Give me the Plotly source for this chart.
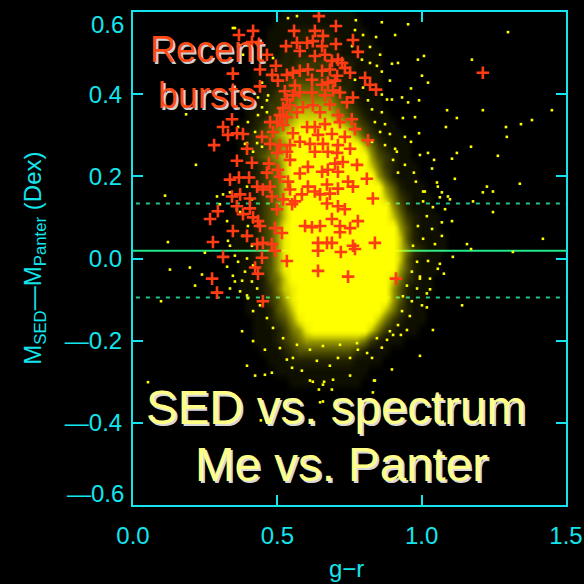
import plotly.graph_objects as go

# ---------------------------------------------------------------------------
# Data
# ---------------------------------------------------------------------------
# Galaxies flagged as recent bursts: (g-r colour, M_SED - M_Panter in dex)
burst_points = [
    (0.367, 0.544), (0.416, 0.554), (0.412, 0.527), (0.440, 0.460), (0.464, 0.496),
    (0.346, 0.450), (0.495, 0.469), (0.482, 0.447), (0.502, 0.433), (0.530, 0.517),
    (0.558, 0.554), (0.568, 0.525), (0.578, 0.505), (0.578, 0.457), (0.533, 0.447),
    (0.440, 0.419), (0.526, 0.407), (0.554, 0.397), (0.578, 0.404), (0.533, 0.387),
    (0.544, 0.373), (0.568, 0.356), (0.343, 0.339), (0.312, 0.320), (0.329, 0.301),
    (0.360, 0.305), (0.381, 0.303), (0.281, 0.276), (0.395, 0.267), (0.447, 0.296),
    (0.475, 0.332), (0.499, 0.332), (0.520, 0.325), (0.485, 0.308), (0.533, 0.344),
    (0.475, 0.279), (0.509, 0.276), (0.544, 0.276), (0.578, 0.284),
    (0.554, 0.452), (0.561, 0.421), (0.589, 0.368), (0.520, 0.366), (0.509, 0.349),
    (0.554, 0.305), (0.499, 0.257), (0.533, 0.260),
    (0.644, 0.590), (0.703, 0.566), (0.630, 0.554), (0.658, 0.542), (0.603, 0.525),
    (0.623, 0.529), (0.655, 0.517), (0.703, 0.522), (0.762, 0.532), (0.779, 0.503),
    (0.630, 0.493), (0.665, 0.496), (0.689, 0.481), (0.710, 0.484), (0.734, 0.464),
    (0.752, 0.452), (0.804, 0.440), (0.821, 0.423), (0.842, 0.411), (0.606, 0.460),
    (0.655, 0.457), (0.682, 0.460), (0.620, 0.435), (0.655, 0.423), (0.700, 0.433),
    (0.717, 0.404), (0.741, 0.380), (0.620, 0.404), (0.665, 0.397), (0.682, 0.375),
    (0.648, 0.356), (0.623, 0.373), (0.710, 0.349), (0.758, 0.339), (0.717, 0.332),
    (0.665, 0.327), (0.630, 0.320), (0.769, 0.315), (0.641, 0.301), (0.689, 0.303),
    (0.734, 0.296), (0.814, 0.288), (0.613, 0.279), (0.658, 0.279), (0.710, 0.276),
    (0.752, 0.267), (0.630, 0.260), (0.675, 0.260),
    (0.707, 0.445), (0.724, 0.476), (0.675, 0.428), (0.693, 0.409), (0.762, 0.392),
    (0.603, 0.320), (0.707, 0.257),
    (0.360, 0.238), (0.412, 0.233), (0.471, 0.231), (0.502, 0.216), (0.544, 0.240),
    (0.578, 0.207), (0.336, 0.192), (0.367, 0.197), (0.402, 0.197), (0.430, 0.175),
    (0.450, 0.168), (0.475, 0.175), (0.509, 0.199), (0.544, 0.168), (0.561, 0.139),
    (0.520, 0.144), (0.481, 0.151), (0.343, 0.151), (0.371, 0.156), (0.405, 0.146),
    (0.360, 0.127), (0.381, 0.108), (0.405, 0.122), (0.433, 0.091), (0.499, 0.120),
    (0.294, 0.115), (0.267, 0.096), (0.346, 0.067), (0.395, 0.055), (0.440, 0.079),
    (0.492, 0.074), (0.516, 0.062), (0.450, 0.038), (0.481, 0.035), (0.430, 0.035),
    (0.277, 0.040), (0.492, 0.019), (0.312, 0.004), (0.447, 0.002), (0.533, -0.006),
    (0.423, -0.022), (0.433, -0.037), (0.274, -0.049), (0.291, -0.083), (0.450, -0.104),
    (0.585, 0.156), (0.551, 0.132), (0.416, 0.100), (0.464, 0.209), (0.537, 0.187),
    (0.606, 0.223), (0.655, 0.211), (0.675, 0.216), (0.700, 0.231), (0.727, 0.235),
    (0.776, 0.228), (0.710, 0.211), (0.745, 0.187), (0.762, 0.175), (0.810, 0.194),
    (0.606, 0.175), (0.630, 0.163), (0.672, 0.180), (0.710, 0.170), (0.648, 0.156),
    (0.682, 0.158), (0.672, 0.134), (0.710, 0.127), (0.734, 0.120), (0.831, 0.146),
    (0.689, 0.096), (0.779, 0.091), (0.596, 0.079), (0.620, 0.076), (0.648, 0.079),
    (0.717, 0.079), (0.752, 0.074), (0.641, 0.038), (0.672, 0.038), (0.689, 0.038),
    (0.762, 0.031), (0.769, 0.023), (0.838, 0.038), (0.641, 0.019), (0.720, 0.016),
    (0.641, -0.030), (0.745, -0.044), (0.911, -0.049), (0.717, 0.064),
    (1.212, 0.452),
]

# Individual galaxies of the full sample outside its saturated core
sample_points = [
    (0.772, 0.580), (0.862, 0.575), (0.953, 0.570), (0.908, 0.544), (0.842, 0.539),
    (1.299, 0.551), (1.174, 0.484), (0.918, 0.476), (0.897, 0.474), (0.987, 0.484),
    (1.008, 0.493), (0.856, 0.496), (0.821, 0.515), (0.862, 0.455), (1.001, 0.445),
    (1.022, 0.428), (0.890, 0.433), (0.963, 0.414), (0.932, 0.392), (0.897, 0.387),
    (0.991, 0.385), (0.953, 0.380), (1.212, 0.361), (1.451, 0.361), (1.382, 0.337),
    (1.088, 0.361), (1.122, 0.342), (0.935, 0.342), (0.977, 0.344), (1.084, 0.320),
    (1.292, 0.320), (1.344, 0.327), (0.991, 0.305), (0.942, 0.296), (1.295, 0.296),
    (1.171, 0.272), (1.122, 0.257), (1.022, 0.257), (0.963, 0.284), (0.994, 0.252),
    (1.105, 0.243), (1.264, 0.250), (1.340, 0.182), (1.226, 0.175), (1.212, 0.161),
    (1.115, 0.194), (1.043, 0.240), (1.036, 0.219), (0.980, 0.187), (1.005, 0.163),
    (1.053, 0.185), (1.070, 0.161), (0.973, 0.209), (0.942, 0.228), (0.918, 0.209),
    (0.901, 0.240), (0.914, 0.260),
    (1.247, 0.163), (1.178, 0.139), (1.247, 0.113), (1.420, 0.048), (1.316, 0.016),
    (1.171, 0.023), (1.157, 0.035), (1.108, 0.004), (1.056, -0.025), (1.077, -0.037),
    (1.140, -0.114), (1.018, -0.119), (1.029, -0.075), (0.994, -0.049), (0.928, -0.186),
    (1.039, -0.174), (1.081, 0.120), (1.105, 0.091), (1.070, 0.088), (1.091, 0.151),
    (1.056, 0.175), (1.005, 0.139),
    (0.994, -0.237), (0.897, -0.270), (0.838, -0.297), (0.831, -0.326), (0.752, -0.285),
    (0.693, -0.295), (0.658, -0.307), (0.648, -0.350), (0.613, -0.297), (0.457, -0.283),
    (0.423, -0.285), (0.481, -0.278), (0.395, -0.261), (0.457, -0.222), (0.416, -0.201),
    (0.378, -0.177), (0.551, -0.266), (0.585, -0.273), (0.533, -0.246), (0.880, -0.198),
    (0.862, -0.217), (0.779, -0.222), (0.710, -0.242), (0.828, -0.242), (0.443, -0.394),
    (0.623, -0.300), (0.662, -0.300), (0.644, -0.319), (0.689, -0.319), (0.658, -0.348),
    (0.835, -0.297), (0.052, -0.301),
    (0.111, 0.153), (0.121, 0.040), (0.128, -0.027), (0.197, -0.022), (0.239, -0.039),
    (0.215, -0.066), (0.097, -0.104), (0.326, 0.091), (0.249, 0.014), (0.291, 0.151),
    (0.312, 0.156), (0.336, 0.161), (0.329, 0.043), (0.336, 0.031), (0.353, 0.007),
    (0.364, -0.008), (0.346, -0.042), (0.353, -0.056), (0.336, -0.073), (0.378, -0.054),
    (0.371, -0.080), (0.395, -0.090), (0.301, 0.132), (0.360, 0.120), (0.326, -0.020),
    (0.218, 0.228), (0.184, 0.351), (0.353, 0.561), (0.537, 0.585), (0.568, 0.590),
    (0.485, 0.488), (0.433, 0.392), (0.388, 0.387), (0.464, 0.385), (0.430, 0.281),
    (0.395, 0.281),
    # halo around the core
    (1.011, 0.163), (1.063, 0.149), (1.098, 0.144), (1.039, 0.125), (1.018, 0.103),
    (0.987, 0.079), (1.036, 0.072), (1.070, 0.055), (1.005, 0.048), (0.970, 0.031),
    (1.046, 0.035), (0.984, -0.008), (1.022, -0.006), (1.063, -0.013), (0.966, -0.032),
    (0.994, -0.044), (1.029, -0.049), (0.949, -0.066), (0.984, -0.073), (1.018, -0.085),
    (0.935, -0.092), (0.966, -0.104), (1.001, -0.114), (0.932, -0.128), (0.959, -0.140),
    (0.918, -0.162), (0.949, -0.174), (0.901, -0.186),
    (0.395, 0.175), (0.412, 0.144), (0.371, 0.113), (0.398, 0.079), (0.381, 0.055),
    (0.412, 0.031), (0.395, 0.000), (0.416, -0.017), (0.388, -0.032), (0.412, -0.056),
    (0.430, -0.073), (0.398, -0.097), (0.440, -0.114), (0.464, -0.145), (0.416, -0.128),
    (0.485, -0.169),
    (0.520, -0.194), (0.568, -0.210), (0.613, -0.222), (0.658, -0.213), (0.717, -0.210),
    (0.776, -0.206), (0.845, -0.194), (0.890, -0.177), (0.509, -0.218), (0.554, -0.242),
    (0.637, -0.249), (0.682, -0.261), (0.752, -0.242), (0.811, -0.230),
    (0.769, 0.556), (0.797, 0.544), (0.759, 0.517), (0.793, 0.484), (0.821, 0.476),
    (0.845, 0.469), (0.769, 0.435), (0.797, 0.416), (0.862, 0.399), (0.880, 0.387),
    (0.814, 0.385), (0.828, 0.363), (0.862, 0.356), (0.838, 0.332), (0.873, 0.327),
    (0.856, 0.308), (0.890, 0.303), (0.828, 0.284), (0.873, 0.276), (0.908, 0.267),
    (0.346, 0.561), (0.364, 0.517), (0.381, 0.496), (0.447, 0.428), (0.468, 0.397),
    (0.447, 0.368), (0.464, 0.356), (0.433, 0.349), (0.398, 0.332), (0.364, 0.320),
    (0.423, 0.308), (0.388, 0.279), (0.447, 0.272), (0.416, 0.260),
]

# Number density of the full sample on a 0.025 x 0.025 grid (0 = empty .. 9 = saturated),
# rows from dM = +0.600 down to dM = -0.350, columns from g-r = 0.200 to 1.150
GRID_X_START = 0.200
GRID_Y_TOP = 0.600
GRID_STEP = 0.025
density_rows = [
    "0" * 13 + "1" * 10 + "0" * 16,
    "0" * 12 + "1" * 12 + "0" * 15,
    "0" * 11 + "1111" + "22222" + "11111" + "0" * 14,
    "0" * 11 + "111" + "2222222" + "11111" + "0" * 13,
    "0" * 10 + "111" + "22222222" + "111111" + "0" * 12,
    "0" * 10 + "11" + "222" + "33333" + "222" + "1111" + "0" * 12,
    "0" * 9 + "11" + "222" + "333333" + "222" + "1111" + "0" * 12,
    "0" * 9 + "11223" + "444444" + "322" + "1111" + "0" * 12,
    "0" * 9 + "122334" + "55555" + "432" + "1111" + "0" * 12,
    "0" * 8 + "1123345" + "66666" + "5432" + "111" + "0" * 12,
    "0" * 8 + "1223456" + "77777" + "65432" + "111" + "0" * 11,
    "0" * 7 + "11234567" + "888888" + "76432" + "111" + "0" * 10,
    "0" * 7 + "12345678" + "9999999" + "86432" + "111" + "0" * 9,
    "0" * 7 + "12334568" + "9" * 9 + "7532" + "111" + "0" * 8,
    "0" * 7 + "1234567" + "9" * 11 + "6432" + "11" + "0" * 8,
    "0" * 7 + "1123457" + "9" * 11 + "7532" + "111" + "0" * 7,
    "0" * 7 + "1123457" + "9" * 12 + "642" + "111" + "0" * 7,
    "0" * 6 + "111" + "23457" + "9" * 13 + "642" + "111" + "0" * 6,
    "0" * 6 + "111" + "23457" + "9" * 13 + "7532" + "111" + "0" * 5,
    "0" * 6 + "111" + "23457" + "9" * 14 + "642" + "111" + "0" * 5,
    "0" * 6 + "111" + "23457" + "9" * 14 + "7532" + "111" + "0" * 4,
    "0" * 6 + "111" + "23468" + "9" * 15 + "642" + "111" + "0" * 4,
    "0" * 6 + "111" + "23468" + "9" * 15 + "742" + "1111" + "0" * 3,
    "0" * 6 + "111" + "23468" + "9" * 15 + "7532" + "111" + "0" * 3,
    "0" * 7 + "11" + "23468" + "9" * 15 + "742" + "111" + "0" * 4,
    "0" * 7 + "11" + "23468" + "9" * 15 + "642" + "111" + "0" * 4,
    "0" * 7 + "111" + "2457" + "9" * 14 + "7532" + "11" + "0" * 5,
    "0" * 7 + "111" + "23578" + "9" * 13 + "642" + "111" + "0" * 5,
    "0" * 8 + "11" + "23468" + "9" * 13 + "642" + "11" + "0" * 6,
    "0" * 8 + "111" + "2457" + "9" * 12 + "7532" + "11" + "0" * 6,
    "0" * 9 + "11" + "23468" + "9" * 10 + "7532" + "111" + "0" * 6,
    "0" * 9 + "111" + "23568" + "9" * 8 + "7532" + "111" + "0" * 7,
    "0" * 9 + "111" + "2345" + "6" * 8 + "532" + "111" + "0" * 9,
    "0" * 10 + "111" + "23" + "4" * 8 + "32" + "111" + "0" * 11,
    "0" * 11 + "111" + "2" * 9 + "1111" + "0" * 12,
    "0" * 12 + "1" * 13 + "0" * 14,
    "0" * 14 + "1" * 10 + "0" * 15,
    "0" * 39,
    "0" * 39,
]

# Sample mean offset and its 1-sigma band
mean_offset = 0.019
sigma_band = [0.134, -0.095]

x_ticks = [0.0, 0.5, 1.0, 1.5]
x_tick_labels = ["0.0", "0.5", "1.0", "1.5"]
y_ticks = [-0.6, -0.4, -0.2, 0.0, 0.2, 0.4, 0.6]
y_tick_labels = ["\u20140.6", "\u20140.4", "\u20140.2", "0.0", "0.2", "0.4", "0.6"]

# ---------------------------------------------------------------------------
# Figure
# ---------------------------------------------------------------------------
CYAN = "#14e4ec"
YELLOW = "#ffff00"
BURST_RED = "#ff3c14"
AXIS_FONT = "Liberation Sans, Arial, sans-serif"
TICK_SIZE = 24

ncols = max(len(r) for r in density_rows)
grid = [[int(c) for c in r.ljust(ncols, "0")] for r in density_rows]
grid_x = [GRID_X_START + GRID_STEP * i for i in range(ncols)]
grid_y = [GRID_Y_TOP - GRID_STEP * j for j in range(len(grid))]
# ascending order for the heatmap
grid_y = grid_y[::-1]
grid = grid[::-1]

alphas = [0.0, 0.06, 0.12, 0.21, 0.32, 0.45, 0.60, 0.78, 0.93, 1.0]
density_scale = [[k / 9, f"rgba(255,255,0,{a})"] for k, a in enumerate(alphas)]

fig = go.Figure()

fig.add_trace(go.Heatmap(
    x=grid_x, y=grid_y, z=grid,
    zmin=0, zmax=9, zsmooth="best",
    colorscale=density_scale, showscale=False, hoverinfo="skip",
))

fig.add_trace(go.Scatter(
    x=[p[0] for p in sample_points], y=[p[1] for p in sample_points],
    mode="markers",
    marker=dict(symbol="square", size=2.6, color=YELLOW, line=dict(width=0)),
    hoverinfo="skip", showlegend=False,
))

fig.add_trace(go.Scatter(
    x=[p[0] for p in burst_points], y=[p[1] for p in burst_points],
    mode="markers",
    marker=dict(symbol="cross-thin", size=9, line=dict(width=2.6, color=BURST_RED)),
    hoverinfo="skip", showlegend=False,
))

# mean offset (solid) and 1-sigma band (dashed), drawn behind the points
fig.add_shape(type="line", xref="x", yref="y", x0=0, x1=1.5,
              y0=mean_offset, y1=mean_offset, layer="below",
              line=dict(color="#22e88a", width=2))
for level in sigma_band:
    fig.add_shape(type="line", xref="x", yref="y", x0=0.01, x1=1.5,
                  y0=level, y1=level, layer="below",
                  line=dict(color="#20c48e", width=2, dash="4px,6px"))

axis_common = dict(
    showline=True, linecolor=CYAN, linewidth=2, mirror="ticks",
    ticks="inside", ticklen=10, tickwidth=2, tickcolor=CYAN,
    showgrid=False, zeroline=False, automargin=False,
    ticklabeloverflow="allow",
    tickfont=dict(family=AXIS_FONT, size=TICK_SIZE, color=CYAN),
)

# the two end labels of the y axis sit just inside the frame, so they are
# placed separately below; the axis itself labels the inner ticks
inner_y_text = [t if 0 < i < len(y_ticks) - 1 else "" for i, t in enumerate(y_tick_labels)]

fig.update_xaxes(range=[0, 1.5], tickvals=x_ticks, ticktext=x_tick_labels,
                 ticklabelstandoff=8, **axis_common)
fig.update_yaxes(range=[-0.6, 0.6], tickvals=y_ticks, ticktext=inner_y_text,
                 ticklabelstandoff=4, **axis_common)

tick_font = dict(family=AXIS_FONT, size=TICK_SIZE, color=CYAN)
annotations = [
    dict(text=y_tick_labels[-1], x=0, y=y_ticks[-1], xref="paper", yref="y",
         showarrow=False, xanchor="right", yanchor="top", xshift=-7, yshift=3,
         font=tick_font),
    dict(text=y_tick_labels[0], x=0, y=y_ticks[0], xref="paper", yref="y",
         showarrow=False, xanchor="right", yanchor="bottom", xshift=-7, yshift=-4,
         font=tick_font),
    # axis titles
    dict(text="g\u2212r", x=0.494, y=-0.128, xref="paper", yref="paper",
         showarrow=False, xanchor="center", yanchor="middle",
         font=dict(family=AXIS_FONT, size=24, color=CYAN)),
    dict(text="M<sub>SED</sub>\u2014M<sub>Panter</sub> (Dex)",
         x=-0.228, y=0.5, xref="paper", yref="paper", textangle=-90,
         showarrow=False, xanchor="center", yanchor="middle",
         font=dict(family=AXIS_FONT, size=24, color=CYAN)),
    # labels inside the panel
    dict(text="Recent", x=0.171, y=0.923, xref="paper", yref="paper",
         showarrow=False, xanchor="center", yanchor="middle",
         font=dict(family=AXIS_FONT, size=36, color="#ff4a14",
                   shadow="2px 2px 0px #d0d0d0")),
    dict(text="bursts", x=0.171, y=0.831, xref="paper", yref="paper",
         showarrow=False, xanchor="center", yanchor="middle",
         font=dict(family=AXIS_FONT, size=36, color="#ff4a14",
                   shadow="2px 2px 0px #d0d0d0")),
    dict(text="SED vs. spectrum", x=0.469, y=0.198, xref="paper", yref="paper",
         showarrow=False, xanchor="center", yanchor="middle",
         font=dict(family=AXIS_FONT, size=47.5, color="#ffff88",
                   shadow="2px 2px 0px #d8d8d8")),
    dict(text="Me vs. Panter", x=0.481, y=0.082, xref="paper", yref="paper",
         showarrow=False, xanchor="center", yanchor="middle",
         font=dict(family=AXIS_FONT, size=47.5, color="#ffff88",
                   shadow="2px 2px 0px #d8d8d8")),
]

fig.update_layout(
    width=584, height=584,
    margin=dict(l=133, r=18, t=12, b=79),
    paper_bgcolor="black", plot_bgcolor="black",
    showlegend=False,
    annotations=annotations,
)

fig.write_html("out.html")
